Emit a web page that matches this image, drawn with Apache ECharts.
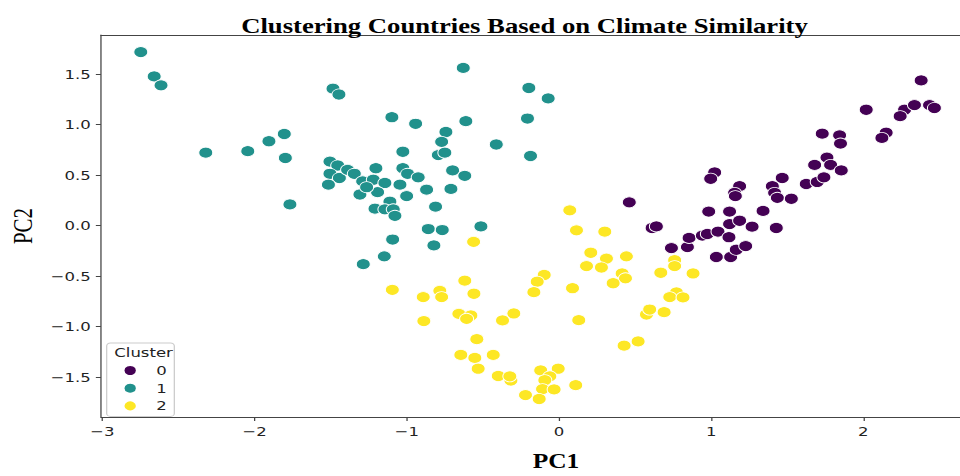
<!DOCTYPE html>
<html>
<head>
<meta charset="utf-8">
<script src="https://cdn.jsdelivr.net/npm/echarts@6/dist/echarts.min.js"></script>
<style>
  html, body { margin: 0; padding: 0; background: #fff; overflow: hidden; }
  /* chart is laid out narrower and widened horizontally */
  #chart { width: 756px; height: 476px; transform: scaleX(1.27); transform-origin: 0 0; }
</style>
</head>
<body>
<div id="chart"></div>
<script>
// PCA scores per cluster: [PC1, PC2]
const cluster0 = [
  [0.462, 0.231], [0.612, -0.023], [0.640, -0.007], [0.739, -0.222], [0.844, -0.212],
  [0.855, -0.121], [0.942, -0.098], [0.975, -0.082], [1.045, -0.059], [0.984, 0.140],
  [1.121, 0.140], [1.034, -0.310], [1.128, -0.310], [1.117, -0.114], [1.121, 0.016],
  [1.187, 0.049], [1.165, -0.238], [1.227, -0.202], [1.269, -0.010], [1.341, 0.146],
  [1.428, -0.023], [1.023, 0.527], [0.997, 0.465], [1.187, 0.391], [1.154, 0.325],
  [1.159, 0.293], [1.402, 0.391], [1.417, 0.325], [1.435, 0.276], [1.527, 0.267],
  [1.467, 0.472], [1.625, 0.413], [1.697, 0.433], [1.741, 0.479], [1.680, 0.602],
  [1.761, 0.674], [1.785, 0.602], [1.855, 0.547], [1.730, 0.911], [1.844, 0.895],
  [1.850, 0.813], [2.019, 1.148], [2.150, 0.921], [2.122, 0.869], [2.271, 1.148],
  [2.242, 1.084], [2.336, 1.194], [2.435, 1.194], [2.467, 1.165], [2.380, 1.438]
];
const cluster1 = [
  [-2.748, 1.719], [-2.660, 1.478], [-2.615, 1.390], [-2.321, 0.723], [-2.045, 0.738],
  [-1.906, 0.836], [-1.805, 0.908], [-1.798, 0.670], [-1.768, 0.211], [-1.485, 1.357],
  [-1.446, 1.299], [-1.098, 1.074], [-0.942, 1.009], [-0.629, 1.562], [-0.612, 1.035],
  [-0.198, 1.363], [-0.071, 1.260], [-0.207, 1.061], [-0.743, 0.928], [-0.771, 0.830],
  [-0.793, 0.699], [-0.750, 0.723], [-0.412, 0.804], [-0.187, 0.690], [-1.026, 0.732],
  [-1.505, 0.635], [-1.454, 0.596], [-1.505, 0.514], [-1.443, 0.472], [-1.515, 0.406],
  [-1.389, 0.553], [-1.345, 0.514], [-1.203, 0.569], [-1.290, 0.439], [-1.220, 0.455],
  [-1.144, 0.423], [-1.308, 0.309], [-1.192, 0.332], [-1.264, 0.381], [-1.111, 0.237],
  [-1.209, 0.169], [-1.144, 0.162], [-1.089, 0.162], [-1.078, 0.098], [-1.026, 0.569],
  [-0.995, 0.514], [-0.925, 0.479], [-1.045, 0.406], [-1.001, 0.293], [-0.870, 0.357],
  [-0.699, 0.547], [-0.619, 0.494], [-0.710, 0.364], [-0.811, 0.188], [-0.859, -0.033],
  [-0.767, -0.043], [-0.513, -0.007], [-1.093, -0.137], [-0.822, -0.195], [-1.148, -0.303],
  [-1.286, -0.381]
];
const cluster2 = [
  [-0.561, -0.160], [0.071, 0.152], [0.115, -0.046], [0.301, -0.059], [0.209, -0.268],
  [0.312, -0.326], [0.181, -0.400], [0.279, -0.414], [0.443, -0.303], [0.415, -0.473],
  [0.437, -0.521], [0.356, -0.570], [-0.097, -0.488], [-0.143, -0.554], [-0.165, -0.658],
  [0.089, -0.619], [-1.095, -0.635], [-0.892, -0.707], [-0.783, -0.645], [-0.771, -0.707],
  [-0.619, -0.544], [-0.559, -0.674], [-0.888, -0.944], [-0.658, -0.873], [-0.579, -0.889],
  [-0.607, -0.922], [-0.371, -0.938], [-0.297, -0.869], [0.130, -0.935], [-0.540, -1.123],
  [-0.645, -1.279], [-0.553, -1.309], [-0.432, -1.279], [-0.531, -1.416], [-0.399, -1.488],
  [-0.316, -1.533], [-0.323, -1.491], [-0.120, -1.433], [-0.005, -1.416], [-0.060, -1.491],
  [-0.093, -1.530], [-0.108, -1.618], [-0.032, -1.621], [-0.220, -1.677], [-0.130, -1.716],
  [0.110, -1.579], [0.428, -1.188], [0.520, -1.146], [0.575, -0.879], [0.596, -0.830],
  [0.691, -0.856], [0.760, -0.342], [0.760, -0.400], [0.669, -0.466], [0.881, -0.473],
  [0.772, -0.661], [0.728, -0.707], [0.815, -0.710]
];

const clusterNames = ['0', '1', '2'];
const clusterColors = ['#440154', '#21918c', '#fde725'];
const xTicks = [-3, -2, -1, 0, 1, 2];
const yTicks = [-1.5, -1.0, -0.5, 0.0, 0.5, 1.0, 1.5];

const X_MIN = -3.01, X_MAX = 2.636;
const Y_MIN = -1.894, Y_MAX = 1.888;

const chart = echarts.init(document.getElementById('chart'), null, { renderer: 'svg' });

const tickFont = { fontFamily: 'DejaVu Sans', fontSize: 13, color: '#222' };
const minus = s => s.replace('-', '\u2212');
const axisColor = '#444';

chart.setOption({
  animation: false,
  backgroundColor: '#fff',
  title: {
    text: 'Clustering Countries Based on Climate Similarity',
    left: 408,
    top: 10,
    textAlign: 'center',
    textStyle: { fontFamily: 'Liberation Serif', fontWeight: 'bold', fontSize: 21, color: '#000' }
  },
  grid: { left: 79, top: 35, right: 0, bottom: 54, show: false },
  xAxis: [{
    type: 'value',
    position: 'bottom',
    min: X_MIN, max: X_MAX,
    splitLine: { show: false },
    axisLine: { onZero: false, lineStyle: { color: axisColor, width: 1 } },
    axisTick: { customValues: xTicks, length: 4, lineStyle: { color: axisColor } },
    axisLabel: {
      customValues: xTicks, margin: 8, ...tickFont,
      formatter: v => minus(String(Math.round(v)))
    },
    name: 'PC1',
    nameLocation: 'middle',
    nameGap: 34,
    nameTextStyle: {
      fontFamily: 'Liberation Serif', fontWeight: 'bold', fontSize: 20, color: '#000',
      padding: [0, 0, 0, 40]
    }
  }, {
    // top frame line
    type: 'value',
    position: 'top',
    min: X_MIN, max: X_MAX,
    splitLine: { show: false },
    axisLine: { onZero: false, lineStyle: { color: axisColor, width: 1 } },
    axisTick: { show: false },
    axisLabel: { show: false }
  }],
  yAxis: {
    type: 'value',
    min: Y_MIN, max: Y_MAX,
    splitLine: { show: false },
    axisLine: { onZero: false, lineStyle: { color: axisColor, width: 1 } },
    axisTick: { customValues: yTicks, length: 4, lineStyle: { color: axisColor } },
    axisLabel: {
      customValues: yTicks, margin: 8, ...tickFont,
      formatter: v => minus(v.toFixed(1))
    },
    name: 'PC2',
    nameLocation: 'middle',
    nameRotate: 90,
    nameGap: 49,
    nameTextStyle: { fontFamily: 'Liberation Serif', fontSize: 21, color: '#000' }
  },
  legend: {
    data: clusterNames,
    orient: 'vertical',
    left: 84,
    top: 343,
    icon: 'circle',
    itemWidth: 11,
    itemHeight: 11,
    itemGap: 4.7,
    padding: [21, 6, 4, 12],
    backgroundColor: 'rgba(255,255,255,0.8)',
    borderColor: '#cccccc',
    borderWidth: 1,
    borderRadius: 3,
    textStyle: { ...tickFont, padding: [0, 0, 0, 10] },
    selectedMode: false
  },
  graphic: [{
    type: 'text',
    left: 90,
    top: 346,
    z: 100,
    style: { text: 'Cluster', font: '13px "DejaVu Sans"', fill: '#222' }
  }],
  series: [cluster0, cluster1, cluster2].map((pts, i) => ({
    name: clusterNames[i],
    type: 'scatter',
    xAxisIndex: 0,
    data: pts,
    symbol: 'circle',
    symbolSize: 11,
    itemStyle: { color: clusterColors[i], borderColor: '#fff', borderWidth: 0.8, opacity: 1 },
    emphasis: { disabled: true }
  }))
});
</script>
</body>
</html>
